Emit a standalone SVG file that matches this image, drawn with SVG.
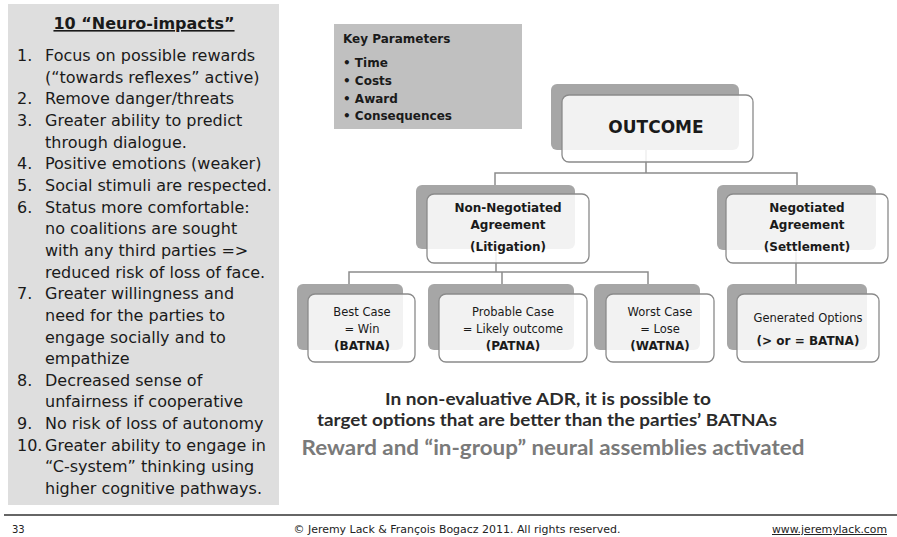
<svg xmlns="http://www.w3.org/2000/svg" width="897" height="537" viewBox="0 0 897 537">
<style>
.list{font-family:"DejaVu Sans",Verdana,sans-serif;font-size:16px;fill:#1a1a1a}
.kp{font-family:"DejaVu Sans",Verdana,sans-serif;font-size:12px;font-weight:bold;fill:#1a1a1a}
.sh{fill:#a6a6a6}
.fr{fill:#ffffff;fill-opacity:0.86;stroke:#8a8a8a;stroke-width:1.3}
.nb{font-family:"DejaVu Sans",Verdana,sans-serif;font-size:12px;font-weight:bold;fill:#1a1a1a;text-anchor:middle}
.nr{font-family:"DejaVu Sans",Verdana,sans-serif;font-size:11.5px;fill:#1a1a1a;text-anchor:middle}
.conn{fill:none;stroke:#8c8c8c;stroke-width:1.5}
.big{font-family:Lato,"Open Sans",sans-serif;font-weight:bold;text-anchor:middle}
.foot{font-family:"DejaVu Sans",Verdana,sans-serif;font-size:10px;fill:#222}
</style>
<rect width="897" height="537" fill="#ffffff"/>

<g id="neuro-impacts">
<rect x="8" y="4" width="271" height="501" fill="#dedede"/>
<text x="144" y="29" text-anchor="middle" font-family="DejaVu Sans,Verdana,sans-serif" font-size="16" font-weight="bold" fill="#1a1a1a" text-decoration="underline">10 “Neuro-impacts”</text>
<g class="list">
<text x="17" y="61">1.</text><text x="45" y="61">Focus on possible rewards</text>
<text x="45" y="82.6">(“towards reflexes” active)</text>
<text x="17" y="104.3">2.</text><text x="45" y="104.3">Remove danger/threats</text>
<text x="17" y="126">3.</text><text x="45" y="126">Greater ability to predict</text>
<text x="45" y="147.6">through dialogue.</text>
<text x="17" y="169.3">4.</text><text x="45" y="169.3">Positive emotions  (weaker)</text>
<text x="17" y="190.9">5.</text><text x="45" y="190.9">Social stimuli are respected.</text>
<text x="17" y="212.6">6.</text><text x="45" y="212.6">Status more comfortable:</text>
<text x="45" y="234.2">no coalitions are sought</text>
<text x="45" y="255.9">with any third parties  =&gt;</text>
<text x="45" y="277.5">reduced risk of loss of face.</text>
<text x="17" y="299.2">7.</text><text x="45" y="299.2">Greater willingness and</text>
<text x="45" y="320.8">need for the parties to</text>
<text x="45" y="342.5">engage socially and to</text>
<text x="45" y="364.1">empathize</text>
<text x="17" y="385.8">8.</text><text x="45" y="385.8">Decreased sense of</text>
<text x="45" y="407.4">unfairness if cooperative</text>
<text x="17" y="429.1">9.</text><text x="45" y="429.1">No risk of loss of autonomy</text>
<text x="17" y="450.7">10.</text><text x="45" y="450.7">Greater ability to engage in</text>
<text x="45" y="472.4">“C-system” thinking using</text>
<text x="45" y="494">higher cognitive pathways.</text>
</g>
</g>

<g id="key-parameters">
<rect x="334" y="24" width="188" height="105" fill="#c0c0c0"/>
<text class="kp" x="343" y="43" font-size="12.5">Key Parameters</text>
<text class="kp" x="343" y="67">• Time</text>
<text class="kp" x="343" y="85">• Costs</text>
<text class="kp" x="343" y="103">• Award</text>
<text class="kp" x="343" y="120">• Consequences</text>
</g>

<g id="connectors" class="conn">
<path d="M646 150V173M495 185V173H797V185"/>
<path d="M496 248V272M349 284V272H648V284M502 272V284"/>
<path d="M796 250V284"/>
</g>

<g id="outcome">
<rect class="sh" x="551" y="84" width="188" height="66" rx="6"/>
<rect class="fr" x="562" y="95" width="191" height="67" rx="7"/>
<text x="656" y="133" text-anchor="middle" font-family="DejaVu Sans,Verdana,sans-serif" font-size="17" font-weight="bold" fill="#1a1a1a">OUTCOME</text>
</g>

<g id="non-negotiated">
<rect class="sh" x="416" y="185" width="159" height="64" rx="6"/>
<rect class="fr" x="427" y="194" width="162" height="69" rx="7"/>
<text class="nb" x="508" y="212">Non-Negotiated</text>
<text class="nb" x="508" y="229">Agreement</text>
<text class="nb" x="508" y="251">(Litigation)</text>
</g>

<g id="negotiated">
<rect class="sh" x="717" y="185" width="159" height="65" rx="6"/>
<rect class="fr" x="726" y="194" width="162" height="69" rx="7"/>
<text class="nb" x="807" y="212">Negotiated</text>
<text class="nb" x="807" y="229">Agreement</text>
<text class="nb" x="807" y="251">(Settlement)</text>
</g>

<g id="best-case">
<rect class="sh" x="297" y="284" width="106" height="66" rx="6"/>
<rect class="fr" x="308" y="294" width="107" height="68" rx="7"/>
<text class="nr" x="362" y="316">Best Case</text>
<text class="nr" x="362" y="333">= Win</text>
<text class="nb" x="362" y="350">(BATNA)</text>
</g>

<g id="probable-case">
<rect class="sh" x="428" y="284" width="146" height="66" rx="6"/>
<rect class="fr" x="439" y="294" width="148" height="68" rx="7"/>
<text class="nr" x="513" y="316">Probable Case</text>
<text class="nr" x="513" y="333">= Likely outcome</text>
<text class="nb" x="513" y="350">(PATNA)</text>
</g>

<g id="worst-case">
<rect class="sh" x="594" y="284" width="106" height="66" rx="6"/>
<rect class="fr" x="606" y="294" width="108" height="68" rx="7"/>
<text class="nr" x="660" y="316">Worst Case</text>
<text class="nr" x="660" y="333">= Lose</text>
<text class="nb" x="660" y="350">(WATNA)</text>
</g>

<g id="generated-options">
<rect class="sh" x="727" y="284" width="140" height="66" rx="6"/>
<rect class="fr" x="737" y="294" width="142" height="68" rx="7"/>
<text class="nr" x="808" y="322">Generated Options</text>
<text class="nb" x="808" y="345">(&gt; or = BATNA)</text>
</g>

<g id="conclusion">
<text class="big" x="548" y="405" font-size="17" fill="#2b2b2b" textLength="326" lengthAdjust="spacingAndGlyphs">In non-evaluative ADR, it is possible to</text>
<text class="big" x="547" y="426" font-size="17" fill="#2b2b2b" textLength="460" lengthAdjust="spacingAndGlyphs">target options that are better than the parties’ BATNAs</text>
<text class="big" x="553" y="455" font-size="21" fill="#7a7a7a" textLength="503" lengthAdjust="spacingAndGlyphs">Reward and “in-group” neural assemblies  activated</text>
</g>

<g id="footer">
<line x1="4" y1="515" x2="897" y2="515" stroke="#333333" stroke-width="1.6"/>
<text class="foot" x="12" y="533">33</text>
<text class="foot" x="457" y="533" text-anchor="middle" textLength="327" lengthAdjust="spacingAndGlyphs">© Jeremy Lack &amp; François Bogacz 2011. All rights reserved.</text>
<text class="foot" x="772" y="533" fill="#555555" text-decoration="underline" textLength="115" lengthAdjust="spacingAndGlyphs">www.jeremylack.com</text>
</g>
</svg>
